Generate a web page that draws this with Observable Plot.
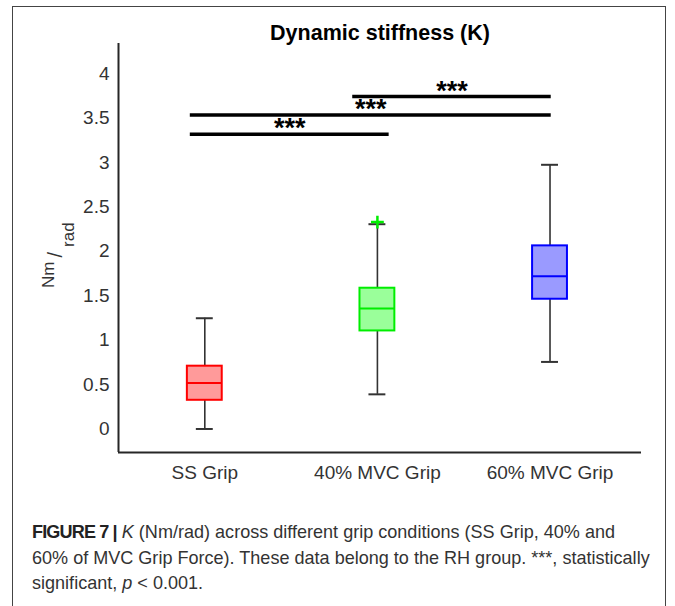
<!DOCTYPE html>
<html>
<head>
<meta charset="utf-8">
<script src="https://cdn.jsdelivr.net/npm/d3@7"></script>
<script src="https://cdn.jsdelivr.net/npm/@observablehq/plot@0.6"></script>
<style>
  body { margin: 0; background: #fff; }
  #wrap { position: relative; width: 675px; height: 606px; overflow: hidden; background: #fff; }
  #border { position: absolute; left: 12px; top: 6px; width: 654px; height: 640px; border: 1.5px solid #444; box-sizing: border-box; }
  #chart { position: absolute; left: 0; top: 0; }
  #caption { position: absolute; left: 32px; top: 519px; font-family: "Liberation Sans", Arial, sans-serif; font-size: 19px; line-height: 25.5px; color: #333; white-space: nowrap; transform: scaleX(0.95); transform-origin: 0 0; }
  #caption b { color: #222; letter-spacing: -0.9px; }
</style>
</head>
<body>
<div id="wrap">
  <div id="border"></div>
  <div id="chart"></div>
  <div id="caption"><b>FIGURE 7 |</b> <i>K</i> (Nm/rad) across different grip conditions (SS Grip, 40% and<br>60% of MVC Grip Force). These data belong to the RH group. ***, statistically<br>significant, <i>p</i> &lt; 0.001.</div>
</div>
<script>
// ---- data ----
const categories   = ["SS Grip", "40% MVC Grip", "60% MVC Grip"];
const whiskerLow   = [0.00, 0.39, 0.755];
const q1           = [0.323, 1.104, 1.461];
const median       = [0.518, 1.356, 1.72];
const q3           = [0.707, 1.585, 2.062];
const whiskerHigh  = [1.247, 2.306, 2.975];
const outlierGroup = ["40% MVC Grip"];
const outlierValue = [2.33];
const boxStroke    = ["#ff0000", "#00ee00", "#0000ff"];
const boxFill      = ["#ff9a9a", "#9aff9a", "#9a9aff"];
// significance bars (x in category-position units)
const sigStart = [0.916, 0.916, 1.857];
const sigEnd   = [2.068, 3.007, 3.007];
const sigLevel = [3.32, 3.535, 3.744];
const sigLabel = ["***", "***", "***"];
const yTicks   = [0, 0.5, 1, 1.5, 2, 2.5, 3, 3.5, 4];
const titleText = "Dynamic stiffness (K)";

// ---- build tables ----
const boxes = categories.map((c, i) => ({
  pos: i + 1, lo: whiskerLow[i], q1: q1[i], med: median[i], q3: q3[i], hi: whiskerHigh[i],
  stroke: boxStroke[i], fill: boxFill[i]
}));
const outliers = outlierGroup.map((g, i) => ({pos: categories.indexOf(g) + 1, v: outlierValue[i], stroke: boxStroke[categories.indexOf(g)]}));
const sigs = sigLevel.map((y, i) => ({x1: sigStart[i], x2: sigEnd[i], y, label: sigLabel[i]}));

const xDomain = [0.5, 3.53];
const yDomain = [-0.265, 4.341];
const boxHalf = 0.101;
const capHalf = 0.049;
const font = "'Liberation Sans', Arial, sans-serif";

const plot = Plot.plot({
  width: 675,
  height: 500,
  marginTop: 43,
  marginBottom: 48,
  marginLeft: 118,
  marginRight: 34,
  style: {fontFamily: font, color: "#333", background: "transparent"},
  x: {type: "linear", domain: xDomain, axis: null},
  y: {type: "linear", domain: yDomain, axis: null},
  marks: [
    Plot.axisY({ticks: yTicks, tickSize: 0, tickPadding: 9, fontSize: 19, label: null, tickFormat: d3.format("")}),
    Plot.axisX({ticks: [1, 2, 3], tickSize: 0, tickPadding: 13, fontSize: 19, label: null, tickFormat: d => categories[d - 1]}),
    // whiskers
    Plot.ruleX(boxes, {x: "pos", y1: "lo", y2: "hi", stroke: "#333", strokeWidth: 1.6}),
    Plot.ruleY(boxes, {y: "hi", x1: d => d.pos - capHalf, x2: d => d.pos + capHalf, stroke: "#333", strokeWidth: 2}),
    Plot.ruleY(boxes, {y: "lo", x1: d => d.pos - capHalf, x2: d => d.pos + capHalf, stroke: "#333", strokeWidth: 2}),
    // boxes
    Plot.rect(boxes, {x1: d => d.pos - boxHalf, x2: d => d.pos + boxHalf, y1: "q1", y2: "q3", fill: d => d.fill, stroke: d => d.stroke, strokeWidth: 2}),
    Plot.ruleY(boxes, {y: "med", x1: d => d.pos - boxHalf, x2: d => d.pos + boxHalf, stroke: d => d.stroke, strokeWidth: 2}),
    // outliers
    Plot.dot(outliers, {x: "pos", y: "v", symbol: "plus", r: 4.2, stroke: d => d.stroke, strokeWidth: 2.5}),
    // significance bars
    Plot.ruleY(sigs, {y: "y", x1: "x1", x2: "x2", stroke: "#000", strokeWidth: 3.5}),
    Plot.text(sigs, {x: d => (d.x1 + d.x2) / 2, y: "y", text: "label", fontSize: 27, fontWeight: "bold", lineAnchor: "bottom", dy: 3, fill: "#000"}),
    // axis lines
    Plot.ruleX([xDomain[0]], {stroke: "#262626", strokeWidth: 2}),
    Plot.ruleY([yDomain[0]], {stroke: "#262626", strokeWidth: 2}),
    // title
    Plot.text([titleText], {frameAnchor: "top", lineAnchor: "bottom", dy: -4, fontSize: 21.5, fontWeight: "bold", fill: "#000"})
  ]
});
document.getElementById("chart").appendChild(plot);

// y-axis label laid out as  Nm / rad  (superscript-like Nm, subscript rad)
const svg = d3.select(plot);
const yl = svg.append("text")
  .attr("transform", "translate(54,288) rotate(-90)")
  .attr("text-anchor", "start")
  .attr("font-family", font)
  .attr("font-size", 17)
  .attr("fill", "#333");
yl.append("tspan").text("Nm");
yl.append("tspan").attr("dx", 4).attr("dy", 8).attr("font-size", 20).text("/");
yl.append("tspan").attr("dx", 5).attr("dy", 12).attr("font-size", 17).text("rad");
</script>
</body>
</html>
